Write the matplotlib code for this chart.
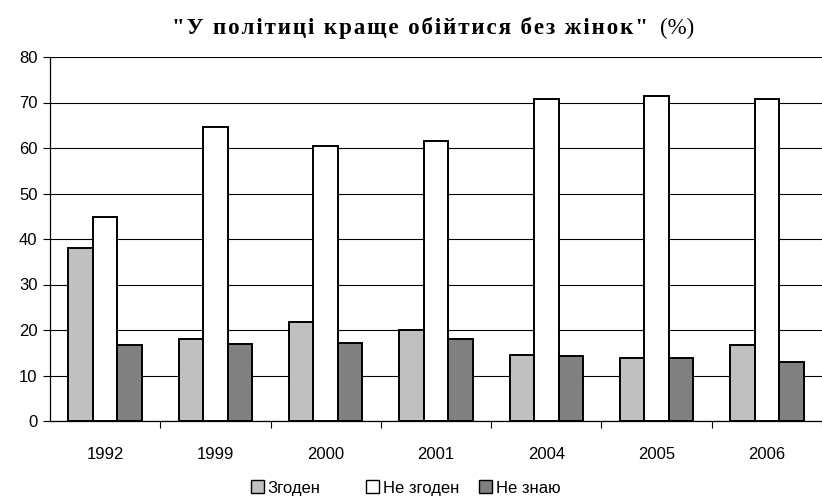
import numpy as np
import matplotlib.pyplot as plt
from matplotlib.patches import Patch

# Survey data (%)
years = ['1992', '1999', '2000', '2001', '2004', '2005', '2006']
agree = [38.0, 18.0, 21.8, 20.0, 14.6, 13.8, 16.6]
disagree = [44.9, 64.6, 60.4, 61.5, 70.8, 71.5, 70.8]
dont_know = [16.6, 16.9, 17.2, 18.0, 14.3, 13.8, 13.0]

labels = ['Згоден', 'Не згоден', 'Не знаю']
colors = ['#C0C0C0', '#FFFFFF', '#808080']
title = '"У політиці краще обійтися без жінок"'

fig = plt.figure(figsize=(8.22, 4.99), dpi=100)
ax = fig.add_axes([50 / 822, 1 - 421 / 499, 772 / 822, 364 / 499])

x = np.arange(len(years))
w = 0.222
for i, (vals, col) in enumerate(zip([agree, disagree, dont_know], colors)):
    ax.bar(x + (i - 1) * w, vals, width=w, color=col, edgecolor='black',
           linewidth=1.4, zorder=3)

ax.set_ylim(0, 80)
ax.set_yticks(range(0, 81, 10))
ax.set_xlim(-0.5, -0.5 + 772 / 111.7)
ax.yaxis.grid(True, color='black', linewidth=0.8, zorder=0)

# category labels between ticks
ax.set_xticks(x + 0.5)
ax.set_xticklabels([])
ax.set_xticks(x, minor=True)
ax.set_xticklabels(years, minor=True)
ax.tick_params(axis='x', which='minor', length=0, pad=19, labelsize=12)
ax.tick_params(axis='x', which='major', length=5, direction='out')
ax.tick_params(axis='y', length=5, direction='out', labelsize=12, pad=4)

for s in ['top', 'right']:
    ax.spines[s].set_visible(False)
ax.spines['left'].set_linewidth(0.9)
ax.spines['bottom'].set_linewidth(0.9)

for t in ax.get_xticklabels(minor=True) + ax.get_yticklabels():
    t.set_fontfamily('Liberation Sans')

# title: bold serif, slightly letter-spaced, plus regular (%)
spaced = '\u200a'.join(title)
fig.text(172 / 822, 1 - 34 / 499, spaced, ha='left', va='baseline',
         fontsize=16.6, fontweight='bold', fontfamily='Liberation Serif')
fig.text(660 / 822, 1 - 34 / 499, '(%)', ha='left', va='baseline',
         fontsize=16.5, fontfamily='Liberation Serif')

# legend: three evenly spaced entries like the original
for lab, col, xpos in zip(labels, colors, [251, 366, 479]):
    fig.legend([Patch(facecolor=col, edgecolor='black', linewidth=1)], [lab],
               loc='center left', bbox_to_anchor=(xpos / 822, 1 - 488 / 499),
               frameon=False, handlelength=0.8, handleheight=0.8,
               handletextpad=0.2, borderpad=0, borderaxespad=0,
               prop={'family': 'Liberation Sans', 'size': 12})

fig.savefig('out.png', dpi=100)
